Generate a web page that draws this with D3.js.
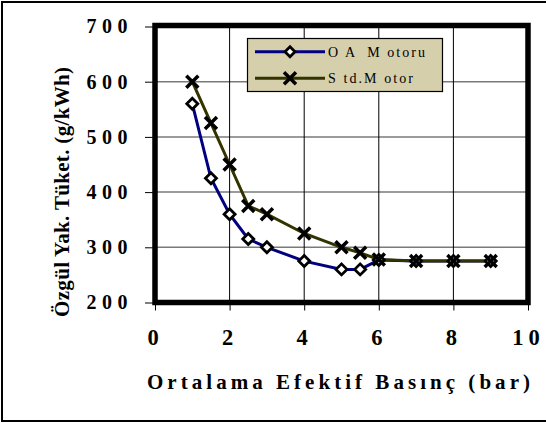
<!DOCTYPE html>
<html>
<head>
<meta charset="utf-8">
<script src="https://cdn.jsdelivr.net/npm/d3@7"></script>
<style>
  body { margin: 0; background: #fff; }
  text { font-family: "Liberation Serif", "Times New Roman", serif; }
</style>
</head>
<body>
<div id="chart"></div>
<script>
// data
var pressure = [1, 1.5, 2, 2.5, 3, 4, 5, 5.5, 6, 7, 8, 9];
var oaMotor = [560, 425, 360, 315, 300, 275, 260, 260, 277, 275, 275, 275];
var stdMotor = [600, 525, 450, 375, 360, 325, 300, 290, 278, 275, 275, 275];
var xTicks = [0, 2, 4, 6, 8, 10];
var yTicks = [200, 300, 400, 500, 600, 700];
var seriesNames = ["O A  M otoru", "S td.M otor"];

var W = 546, H = 423;
var margin = { top: 26.5, right: 18, bottom: 120.5, left: 155 };

var xScale = d3.scaleLinear()
    .domain([0, 10])
    .range([margin.left, W - margin.right]);

var yScale = d3.scaleLinear()
    .domain([200, 700])
    .range([H - margin.bottom, margin.top]);

var svg = d3.select('#chart').append('svg')
    .attr("width", W)
    .attr("height", H);

// outer frame (right side runs off the picture)
svg.append("rect")
    .attr("x", 2).attr("y", 2)
    .attr("width", W + 10).attr("height", 419)
    .attr("fill", "none")
    .attr("stroke", "#000")
    .attr("stroke-width", 2);

// grid
svg.append("g").selectAll("line")
    .data(yTicks.slice(1, -1))
    .enter().append("line")
    .attr("x1", xScale(0)).attr("x2", xScale(10))
    .attr("y1", function(d) { return yScale(d); })
    .attr("y2", function(d) { return yScale(d); })
    .attr("stroke", "#7a7a7a")
    .attr("stroke-width", 1.5);

svg.append("g").selectAll("line")
    .data(xTicks.slice(1, -1))
    .enter().append("line")
    .attr("x1", function(d) { return xScale(d); })
    .attr("x2", function(d) { return xScale(d); })
    .attr("y1", yScale(700)).attr("y2", yScale(200))
    .attr("stroke", "#000")
    .attr("stroke-width", 1);

// axes
var yAxis = svg.append("g")
    .attr("transform", "translate(" + xScale(0) + ",0)")
    .call(d3.axisLeft(yScale).tickValues(yTicks).tickSize(10).tickPadding(12));

var xAxis = svg.append("g")
    .attr("transform", "translate(0," + yScale(200) + ")")
    .call(d3.axisBottom(xScale).tickValues(xTicks).tickSize(8).tickPadding(19));

yAxis.select(".domain").remove();
xAxis.select(".domain").remove();
svg.selectAll(".tick line").attr("stroke", "#000").attr("stroke-width", 1);

yAxis.selectAll("text")
    .attr("font-weight", "bold")
    .attr("font-size", 20)
    .attr("letter-spacing", 5.5)
    .attr("fill", "#000");

xAxis.selectAll("text")
    .attr("font-weight", "bold")
    .attr("font-size", 22.5)
    .attr("letter-spacing", 5)
    .attr("fill", "#000");

// plot frame
svg.append("rect")
    .attr("x", xScale(0)).attr("y", yScale(700) - 1)
    .attr("width", xScale(10) - xScale(0))
    .attr("height", yScale(200) - yScale(700) + 1)
    .attr("fill", "none")
    .attr("stroke", "#000")
    .attr("stroke-width", 5.5);

// series
var line = d3.line()
    .x(function(d) { return xScale(d[0]); })
    .y(function(d) { return yScale(d[1]); });

var oaData = d3.zip(pressure, oaMotor);
var stdData = d3.zip(pressure, stdMotor);

function diamond(g, size) {
    g.append("path")
        .attr("d", "M0," + (-size) + "L" + size + ",0L0," + size + "L" + (-size) + ",0Z")
        .attr("fill", "#fff")
        .attr("stroke", "#000")
        .attr("stroke-width", 2.8);
}

function cross(g, size) {
    g.append("path")
        .attr("d", "M" + (-size) + "," + (-size) + "L" + size + "," + size +
                   "M" + (-size) + "," + size + "L" + size + "," + (-size))
        .attr("stroke", "#000")
        .attr("stroke-width", 3.5)
        .attr("fill", "none");
}

svg.append("path")
    .datum(oaData)
    .attr("d", line)
    .attr("fill", "none")
    .attr("stroke", "#000080")
    .attr("stroke-width", 3);

svg.append("path")
    .datum(stdData)
    .attr("d", line)
    .attr("fill", "none")
    .attr("stroke", "#333300")
    .attr("stroke-width", 3);

svg.append("g").selectAll("g")
    .data(oaData)
    .enter().append("g")
    .attr("transform", function(d) { return "translate(" + xScale(d[0]) + "," + yScale(d[1]) + ")"; })
    .each(function() { diamond(d3.select(this), 5.5); });

svg.append("g").selectAll("g")
    .data(stdData)
    .enter().append("g")
    .attr("transform", function(d) { return "translate(" + xScale(d[0]) + "," + yScale(d[1]) + ")"; })
    .each(function() { cross(d3.select(this), 6); });

// legend
var legend = svg.append("g");
legend.append("rect")
    .attr("x", 247.5).attr("y", 38.5)
    .attr("width", 195).attr("height", 53)
    .attr("fill", "#d6cfab")
    .attr("stroke", "#000")
    .attr("stroke-width", 1.2);

var legendRows = [
    { name: seriesNames[0], color: "#000080", mark: diamond, size: 5, y: 51.7, len: 97 },
    { name: seriesNames[1], color: "#333300", mark: cross, size: 6, y: 78.3, len: 85 }
];

legendRows.forEach(function(r) {
    legend.append("line")
        .attr("x1", 255).attr("x2", 325)
        .attr("y1", r.y).attr("y2", r.y)
        .attr("stroke", r.color)
        .attr("stroke-width", 3);
    var m = legend.append("g").attr("transform", "translate(290," + r.y + ")");
    r.mark(m, r.size);
    legend.append("text")
        .attr("x", 328).attr("y", r.y + 5)
        .attr("font-size", 14)
        .attr("textLength", r.len)
        .attr("lengthAdjust", "spacing")
        .style("white-space", "pre")
        .attr("fill", "#000")
        .text(r.name);
});

// axis titles
svg.append("text")
    .attr("x", 147).attr("y", 389)
    .attr("font-size", 21)
    .attr("font-weight", "bold")
    .attr("textLength", 383)
    .attr("lengthAdjust", "spacing")
    .text("Ortalama Efektif Basınç (bar)");

svg.append("text")
    .attr("transform", "translate(69,192) rotate(-90)")
    .attr("text-anchor", "middle")
    .attr("font-size", 21)
    .attr("font-weight", "bold")
    .attr("textLength", 250)
    .attr("lengthAdjust", "spacing")
    .text("Özgül Yak. Tüket. (g/kWh)");
</script>
</body>
</html>
